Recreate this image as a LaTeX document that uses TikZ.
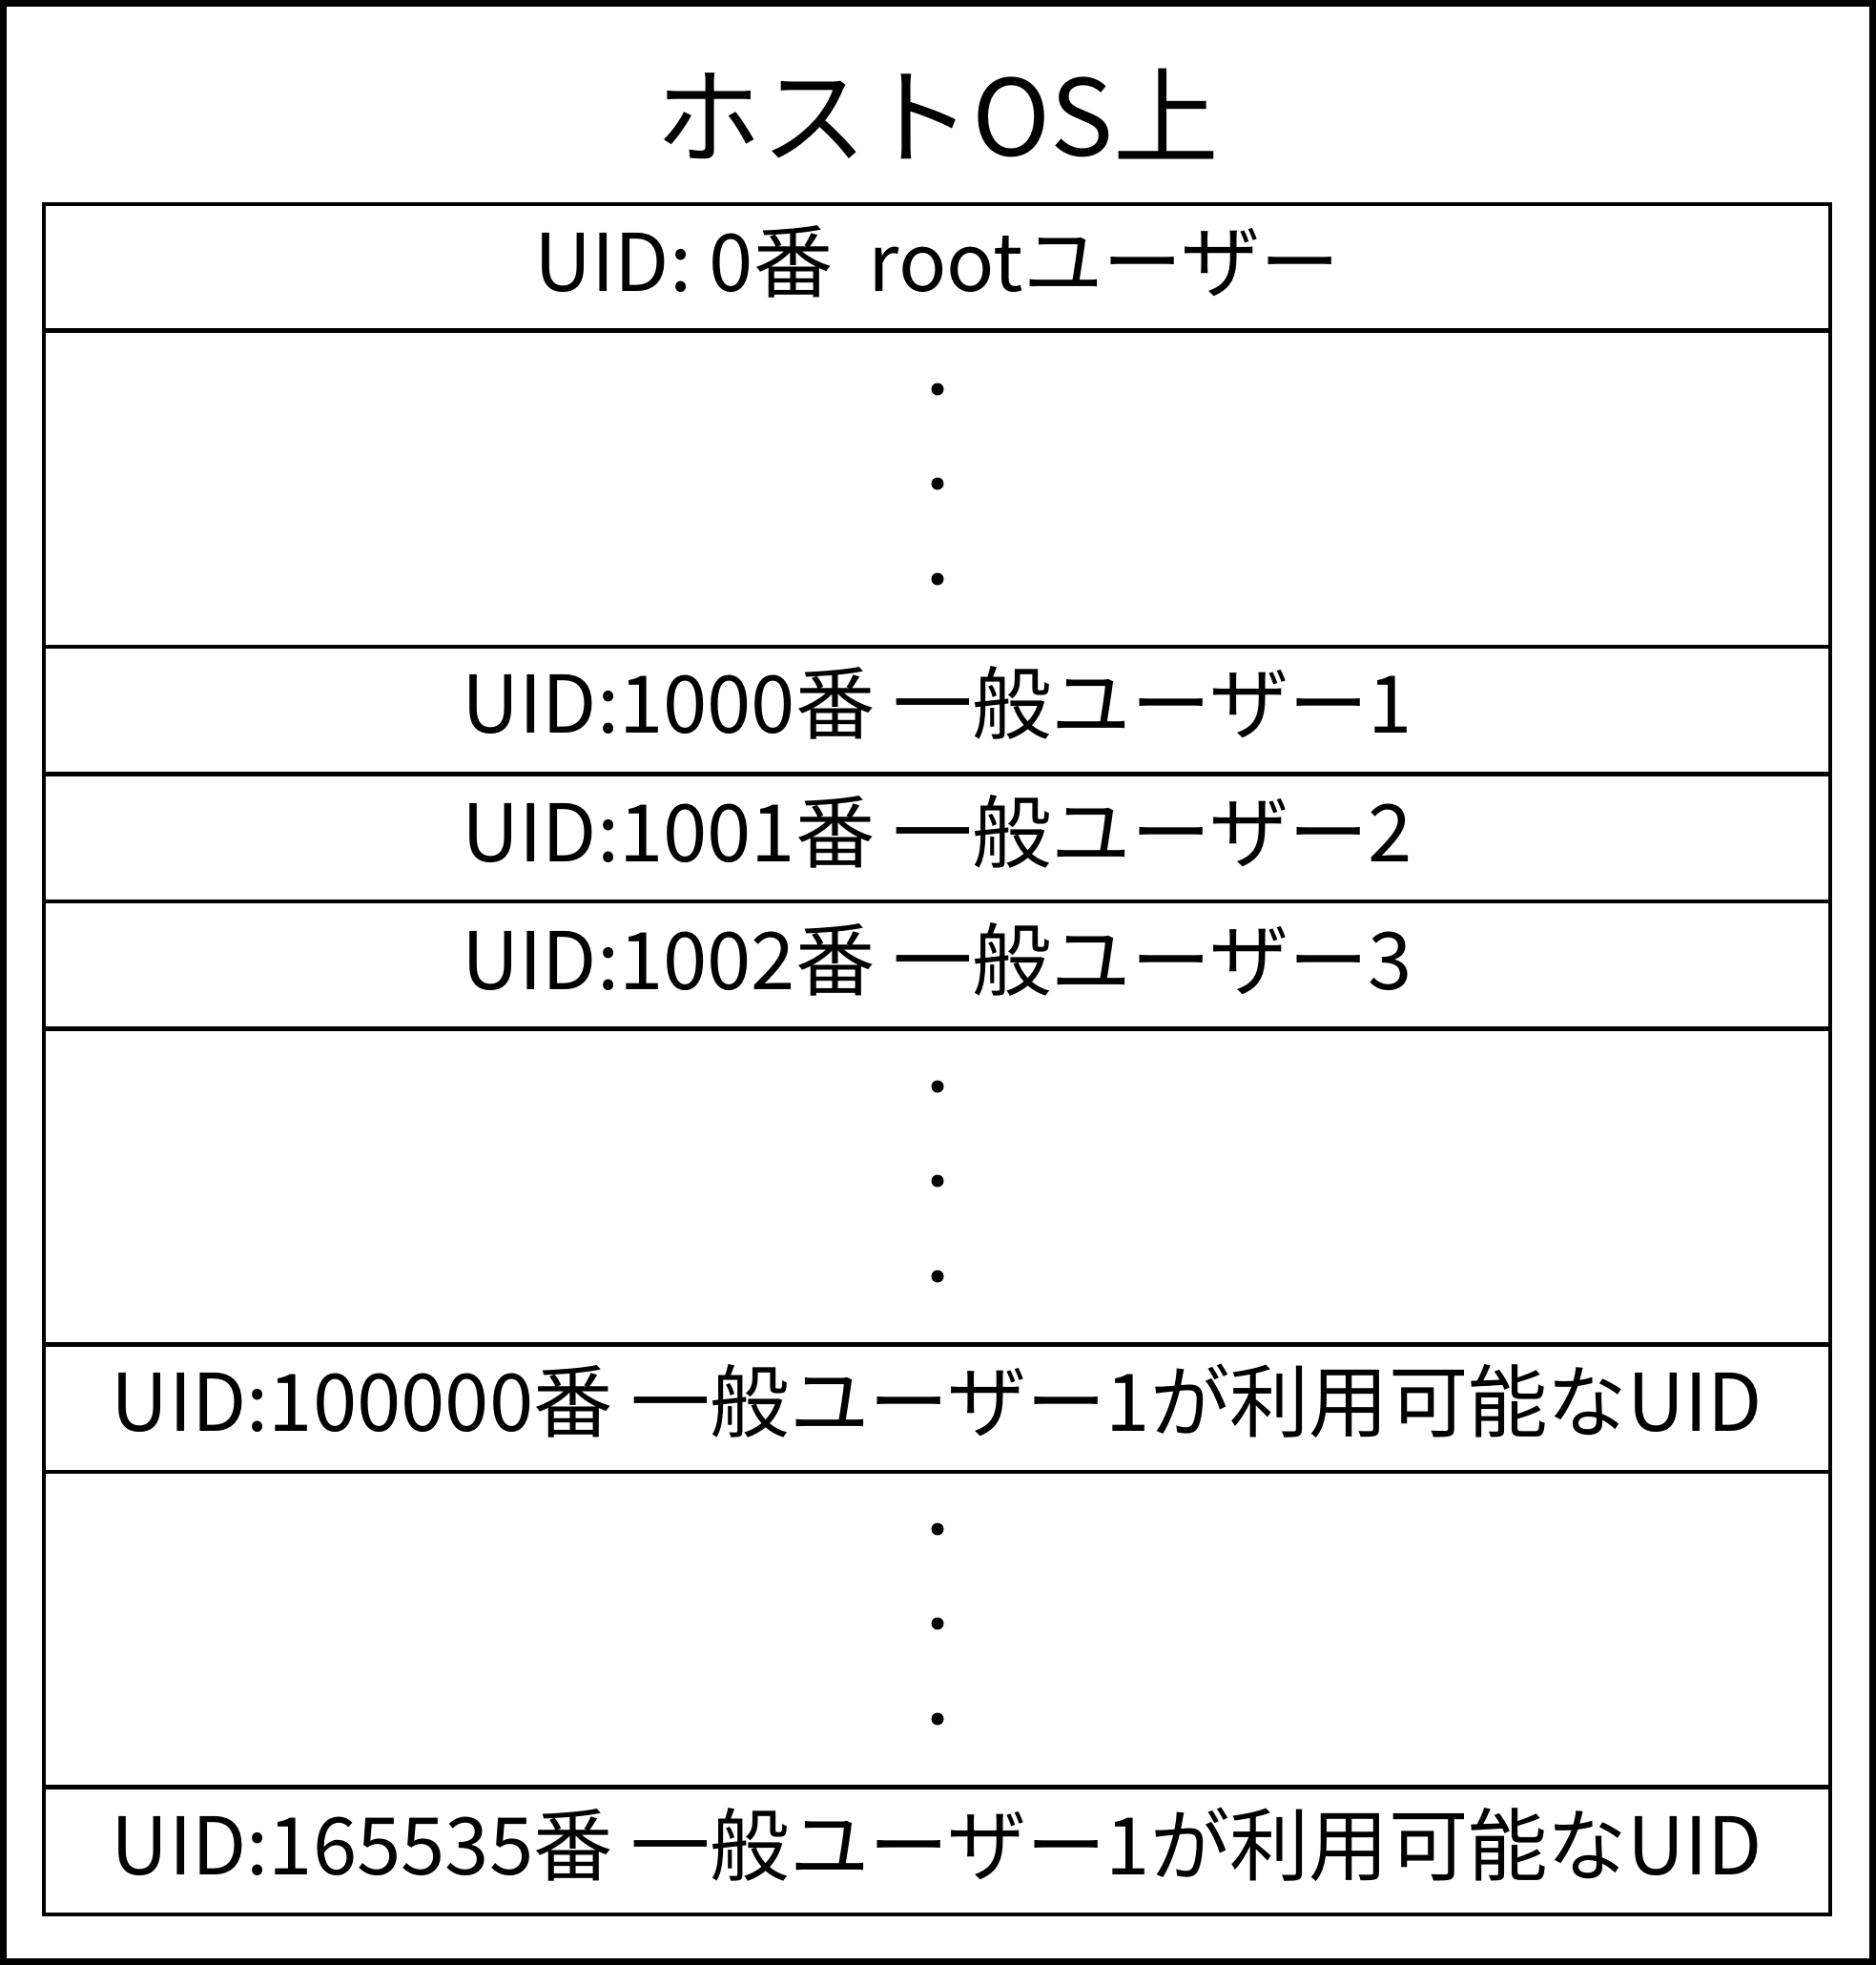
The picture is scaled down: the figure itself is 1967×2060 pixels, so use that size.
\documentclass[tikz,border=0pt]{standalone}
\usepackage{fontspec}
\setmainfont{Noto Sans CJK JP}
\begin{document}
\begin{tikzpicture}[x=0.01cm,y=-0.01cm,
  frame/.style={line width=0.07cm},
  cellbox/.style={draw, line width=0.04cm, rectangle, minimum width=18.71cm, inner sep=0pt, outer sep=0pt},
  small/.style={cellbox, minimum height=1.33cm},
  tall/.style={cellbox, minimum height=3.31cm},
  rowtext/.style={anchor=base, inner sep=0pt, font=\fontsize{23.7}{28}\selectfont},
  titletext/.style={anchor=base, inner sep=0pt, font=\fontsize{31.5}{36}\selectfont},
  dot/.style={circle, fill=black, inner sep=0pt, minimum size=0.13cm}
]
\useasboundingbox (0,0) rectangle (1967,2060);
\draw[frame] (3.5,3.5) rectangle (1963.5,2056.5);
\node[titletext] (title) at (983,163) {ホストOS上};

% cells
\node[small] (c1) at (982.5,280.5) {};
\node[tall]  (c2) at (982.5,512) {};
\node[small] (c3) at (982.5,744.5) {};
\node[small] (c4) at (982.5,878.5) {};
\node[small] (c5) at (982.5,1012) {};
\node[tall]  (c6) at (982.5,1244) {};
\node[small] (c7) at (982.5,1476) {};
\node[tall]  (c8) at (982.5,1708.5) {};
\node[small] (c9) at (982.5,1940) {};

% texts
\node[rowtext] (t1) at (982.5,305) {UID: 0番\ \ rootユーザー};
\node[rowtext] (t3) at (982.5,768) {UID:1000番 一般ユーザー1};
\node[rowtext] (t4) at (982.5,903) {UID:1001番 一般ユーザー2};
\node[rowtext] (t5) at (982.5,1037) {UID:1002番 一般ユーザー3};
\node[rowtext] (t7) at (982.5,1500) {UID:100000番 一般ユーザー1が利用可能なUID};
\node[rowtext] (t9) at (982.5,1965) {UID:165535番 一般ユーザー1が利用可能なUID};

% dots
\node[dot] (d21) at (983,408) {};
\node[dot] (d22) at (983,507) {};
\node[dot] (d23) at (983,607) {};
\node[dot] (d61) at (983,1139) {};
\node[dot] (d62) at (983,1238) {};
\node[dot] (d63) at (983,1338) {};
\node[dot] (d81) at (983,1603) {};
\node[dot] (d82) at (983,1702) {};
\node[dot] (d83) at (983,1802) {};
\end{tikzpicture}
\end{document}
